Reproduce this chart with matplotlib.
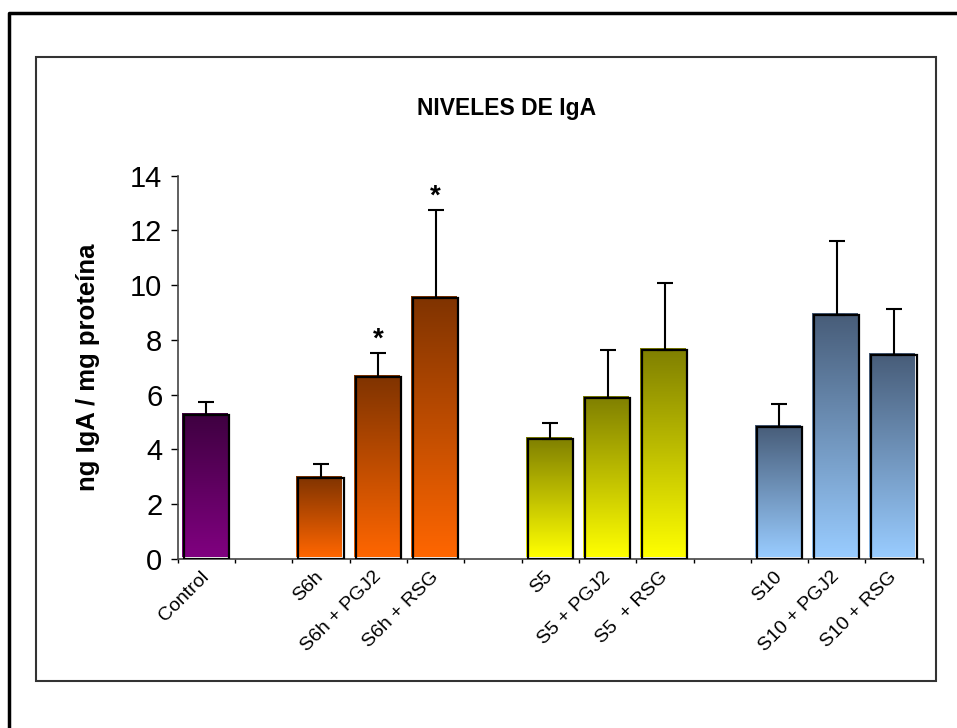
import numpy as np
import matplotlib
matplotlib.use('Agg')
import matplotlib.pyplot as plt
import matplotlib.transforms as mtransforms
from matplotlib.colors import LinearSegmentedColormap
from matplotlib.lines import Line2D
from matplotlib.patches import Rectangle

plt.rcParams['font.family'] = ['Liberation Sans', 'DejaVu Sans']

# data
labels = ['Control',
          'S6h', 'S6h + PGJ2', 'S6h + RSG',
          'S5', 'S5 + PGJ2', 'S5  + RSG',
          'S10', 'S10 + PGJ2', 'S10 + RSG']
group_sizes = [1, 3, 3, 3]
means = [5.25, 2.96, 6.63, 9.54, 4.36, 5.86, 7.63, 4.80, 8.90, 7.45]
err_up = [0.49, 0.50, 0.88, 3.21, 0.61, 1.77, 2.45, 0.87, 2.72, 1.69]
significant = [False, False, True, True, False, False, False, False, False, False]
# gradient colours per group (top, bottom)
group_colors = [('#3e0040', '#800080'),
                ('#7f3300', '#ff6600'),
                ('#7f7f00', '#ffff00'),
                ('#475c78', '#99ccff')]

# positions: one empty slot between groups
positions = []
bar_colors = []
pos = 0
for g, n in enumerate(group_sizes):
    for i in range(n):
        positions.append(pos)
        bar_colors.append(group_colors[g])
        pos += 1
    pos += 1
last = positions[-1]

fig = plt.figure(figsize=(9.57, 7.28), dpi=100)
ax = fig.add_axes([0.1857, 0.2326, 0.7785, 0.5261])

width = 0.79
bars = ax.bar(positions, means, width=width, facecolor='none',
              edgecolor='black', linewidth=1.6, zorder=3)

# gradient fill for each bar, shifted a little up-left like the original shadow
shift = mtransforms.offset_copy(ax.transData, fig=fig, x=-2, y=2, units='dots')
grad = np.linspace(0, 1, 256).reshape(-1, 1)
for b, (top, bottom) in zip(bars, bar_colors):
    cmap = LinearSegmentedColormap.from_list('g', [bottom, top])
    x0 = b.get_x()
    h = b.get_height()
    im = ax.imshow(grad, cmap=cmap, origin='lower', aspect='auto',
                   extent=[x0, x0 + b.get_width(), 0, h],
                   interpolation='bilinear', zorder=2)
    im.set_transform(shift)

ax.errorbar(positions, means, yerr=[np.zeros(len(means)), err_up], fmt='none',
            ecolor='black', elinewidth=1.5, capsize=6, capthick=1.5, zorder=4)

for x, m, e, s in zip(positions, means, err_up, significant):
    if s:
        ax.text(x, m + e + 0.5, '*', ha='center', va='center',
                fontsize=20, fontweight='bold')

ax.set_xlim(-0.5, last + 0.5)
ax.set_ylim(0, 14)
ax.set_yticks(np.arange(0, 15, 2))
ax.tick_params(axis='y', labelsize=21, length=5, width=1, direction='out', pad=6)

ax.set_xticks(np.arange(-0.5, last + 1, 1))
ax.set_xticklabels([])
ax.tick_params(axis='x', which='major', length=3, width=1, direction='out')
ax.set_xticks(positions, minor=True)
ax.set_xticklabels(labels, minor=True, rotation=45, ha='right',
                   rotation_mode='anchor', fontsize=14)
ax.tick_params(axis='x', which='minor', length=0, pad=7)
nudge = mtransforms.ScaledTranslation(-6 / 100, 0, fig.dpi_scale_trans)
for lbl in ax.get_xticklabels(minor=True):
    lbl.set_transform(lbl.get_transform() + nudge)

for side in ['top', 'right']:
    ax.spines[side].set_visible(False)
for side in ['left', 'bottom']:
    ax.spines[side].set_color('#444444')
    ax.spines[side].set_linewidth(1.2)

ax.set_ylabel('ng IgA / mg proteína', fontsize=18.5, fontweight='bold', labelpad=22)
fig.text(0.529, 0.851, 'NIVELES DE IgA', ha='center', va='center',
         fontsize=16.5, fontweight='bold')

# frames around the chart
fig.add_artist(Rectangle((36 / 957, 1 - 681 / 728), 900 / 957, 624 / 728,
                         transform=fig.transFigure, fill=False,
                         edgecolor='#333333', linewidth=1.5))
y_top = 1 - 13 / 728
x_left = 9 / 957
fig.add_artist(Line2D([x_left, x_left, 1.01], [-0.01, y_top, y_top],
                      transform=fig.transFigure, color='black', linewidth=2.5))

fig.savefig('out.png', dpi=100)
